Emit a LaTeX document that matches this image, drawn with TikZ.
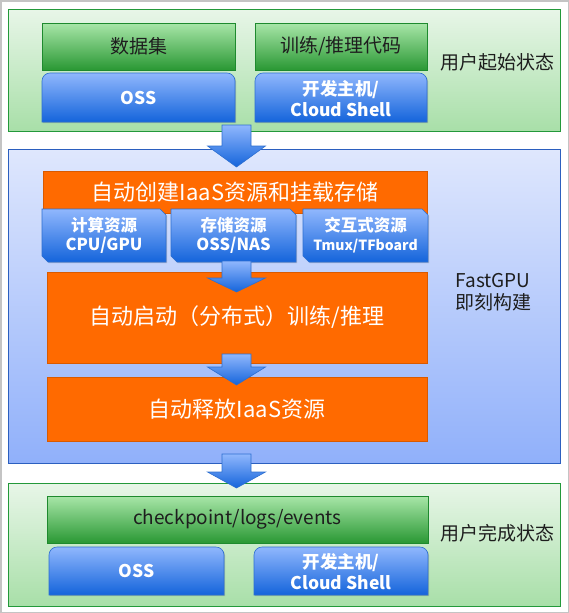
\documentclass[tikz,border=0pt]{standalone}
\usepackage{fontspec}
\setmainfont{Noto Sans CJK SC}
\usetikzlibrary{shadows}
\definecolor{pgT}{HTML}{E8F6E8}
\definecolor{pgB}{HTML}{A8DFA8}
\definecolor{pgD}{HTML}{23993A}
\definecolor{gbT}{HTML}{A8E6A8}
\definecolor{gbB}{HTML}{2A9834}
\definecolor{gbD}{HTML}{1E8A2E}
\definecolor{blT}{HTML}{90B7FD}
\definecolor{blB}{HTML}{1464DB}
\definecolor{blD}{HTML}{2D6FD0}
\definecolor{mpT}{HTML}{DFE7FD}
\definecolor{mpB}{HTML}{90B0FA}
\definecolor{mpD}{HTML}{2B5FBF}
\definecolor{orng}{HTML}{FF6A00}
\definecolor{txt}{HTML}{1E1E1E}
\definecolor{frame}{HTML}{C4C4C4}
\tikzset{
  shd/.style={drop shadow={shadow xshift=1.2pt,shadow yshift=-1.2pt,opacity=0.3,fill=black!60}},
  greenpanel/.style={draw=pgD,line width=1pt,top color=pgT,bottom color=pgB},
  bluepanel/.style={draw=mpD,line width=1pt,top color=mpT,bottom color=mpB},
  greenbox/.style={draw=gbD,line width=0.6pt,top color=gbT,bottom color=gbB,shd,inner sep=0pt,
    text=txt,font=\fontsize{19}{22}\selectfont},
  bluebox/.style={draw=blD,line width=0.6pt,top color=blT,bottom color=blB,shd},
  bluetext/.style={text=white,align=center,inner sep=0pt,font=\bfseries\fontsize{17.5}{21}\selectfont},
  tabtext/.style={text=white,align=center,inner sep=0pt,font=\bfseries\fontsize{16.5}{19}\selectfont},
  orangebox/.style={fill=orng,draw=orng!85!black,line width=0.4pt,shd,inner sep=0pt,text=white,
    font=\fontsize{22}{26}\selectfont},
  sidelabel/.style={text=txt,align=center,inner sep=0pt,font=\fontsize{19}{22}\selectfont},
  blockarr/.style={draw=blD,line width=0.6pt,top color=blT,bottom color=blB}
}
\newcommand\toproundbox[4]{%
  \path[bluebox] (#1,#4) [rounded corners=8pt] -- (#1,#2) -- (#3,#2) [sharp corners] -- (#3,#4) -- cycle;}
\newcommand\snipbox[4]{%
  \path[bluebox] (#1,#2) -- ({#3-6},#2) -- (#3,{#2+6}) -- (#3,#4) -- ({#1+6},#4) -- (#1,{#4-6}) -- cycle;}
\newcommand\blockarrow[4]{%
  \path[blockarr] ({#1-14.5},#2) -- ({#1+14.5},#2) -- ({#1+14.5},#3) -- ({#1+29},#3) -- (#1,#4)
    -- ({#1-29},#3) -- ({#1-14.5},#3) -- cycle;}
\begin{document}
\begin{tikzpicture}[x=1pt,y=-1pt]
\useasboundingbox (0,0) rectangle (569,613);
\draw[frame,line width=1.5pt] (0.75,0.75) rectangle (568.25,612.25);

% ---------- top panel
\path[greenpanel] (8,9) rectangle (560,131);
\node[greenbox,minimum width=193pt,minimum height=47pt] (ds) at (138.5,46.5) {数据集};
\node[greenbox,minimum width=172pt,minimum height=47pt] (code) at (341,46.5) {训练/推理代码};
\toproundbox{42}{73}{235}{122}
\node[bluetext] (oss1) at (138.5,98) {OSS};
\toproundbox{255}{73}{427}{122}
\node[bluetext] (dev1) at (341,98.5) {开发主机/\\Cloud Shell};
\node[sidelabel] (start) at (497,62) {用户起始状态};

% ---------- middle panel
\path[bluepanel] (8,149) rectangle (560,463);
\node[orangebox,minimum width=384pt,minimum height=42pt] (create) at (235,192) {自动创建IaaS资源和挂载存储};
\snipbox{42}{209}{166}{262}
\node[tabtext] (cpu) at (104,235.5) {计算资源\\CPU/GPU};
\snipbox{171}{209}{296}{262}
\node[tabtext] (stor) at (233.5,235.5) {存储资源\\OSS/NAS};
\snipbox{303}{209}{428}{262}
\node[tabtext] (inter) at (365.5,235.5) {交互式资源\\{\fontsize{14}{19}\selectfont Tmux/TFboard}};
\node[orangebox,minimum width=380pt,minimum height=91pt] (train) at (237,317.5) {自动启动（分布式）训练/推理};
\node[orangebox,minimum width=380pt,minimum height=64pt] (release) at (237,409) {自动释放IaaS资源};
\node[sidelabel] (fast) at (493,292) {FastGPU\\即刻构建};

% ---------- bottom panel
\path[greenpanel] (8,483) rectangle (560,606);
\node[greenbox,minimum width=381pt,minimum height=47pt] (ckpt) at (237.5,519.5) {checkpoint/logs/events};
\toproundbox{49}{547}{224}{595}
\node[bluetext] (oss2) at (136.5,571) {OSS};
\toproundbox{254}{547}{428}{595}
\node[bluetext] (dev2) at (341,571.5) {开发主机/\\Cloud Shell};
\node[sidelabel] (done) at (497,533) {用户完成状态};

% ---------- block arrows
\blockarrow{236.5}{125}{146}{167}
\blockarrow{236.5}{261}{278}{292}
\blockarrow{236.5}{354}{367}{385}
\blockarrow{236.5}{454}{472}{488}
\end{tikzpicture}
\end{document}
